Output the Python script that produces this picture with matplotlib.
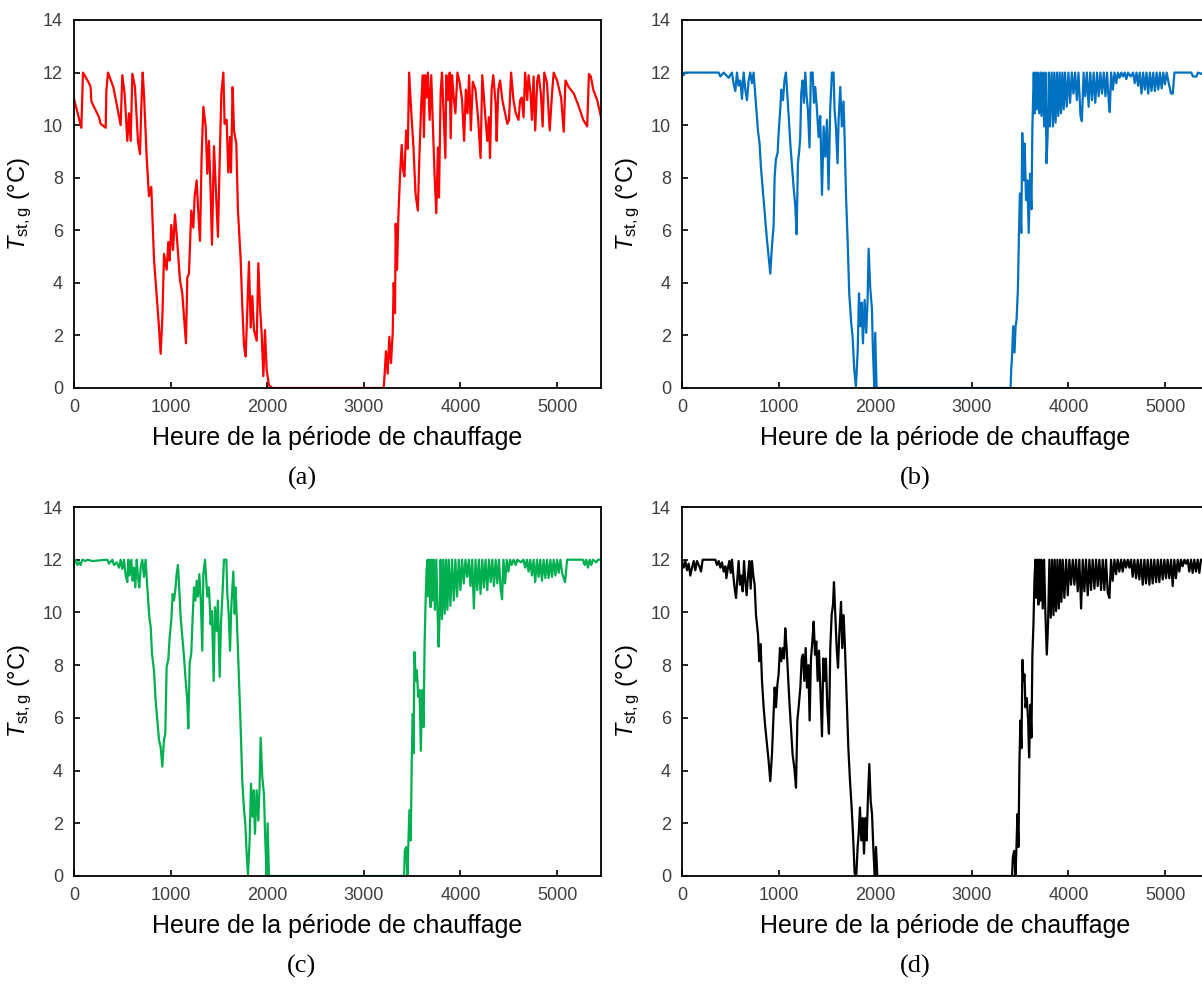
import matplotlib
matplotlib.use('Agg')
import matplotlib.pyplot as plt

plt.rcParams['font.family'] = ['Liberation Sans', 'DejaVu Sans']
plt.rcParams['mathtext.fontset'] = 'custom'
plt.rcParams['mathtext.rm'] = 'Liberation Sans'
plt.rcParams['mathtext.it'] = 'Liberation Sans:italic'

# (a) red
hours_a = [0, 76, 93, 155, 172, 180, 259, 276, 328, 335, 352, 407, 431, 483, 500, 524, 552, 569,
           587, 604, 631, 662, 683, 697, 711, 724, 752, 776, 800, 828, 856, 880, 897, 914, 932,
           959, 976, 990, 1007, 1025, 1045, 1070, 1097, 1121, 1159, 1173, 1190, 1214, 1235, 1249,
           1270, 1283, 1304, 1321, 1339, 1363, 1380, 1397, 1414, 1428, 1449, 1466, 1490, 1508,
           1525, 1546, 1559, 1580, 1597, 1615, 1625, 1642, 1656, 1680, 1697, 1725, 1742, 1760,
           1777, 1794, 1811, 1829, 1846, 1863, 1891, 1908, 1925, 1942, 1960, 1977, 1994, 2018,
           2053, 3205, 3215, 3229, 3247, 3264, 3281, 3299, 3309, 3323, 3330, 3344, 3358, 3375,
           3392, 3406, 3420, 3438, 3455, 3469, 3490, 3514, 3535, 3559, 3576, 3594, 3611, 3622,
           3635, 3649, 3663, 3681, 3698, 3715, 3733, 3750, 3767, 3778, 3795, 3809, 3826, 3844,
           3854, 3872, 3889, 3899, 3913, 3931, 3948, 3969, 3993, 4017, 4038, 4056, 4073, 4090,
           4108, 4128, 4156, 4184, 4208, 4226, 4253, 4278, 4295, 4306, 4323, 4340, 4365, 4375,
           4392, 4410, 4434, 4462, 4486, 4503, 4524, 4549, 4573, 4601, 4618, 4635, 4653, 4670,
           4691, 4705, 4726, 4740, 4757, 4774, 4795, 4809, 4833, 4851, 4868, 4896, 4924, 4948,
           4965, 5000, 5042, 5069, 5087, 5121, 5174, 5226, 5271, 5312, 5330, 5350, 5375, 5416,
           5455]
temp_a = [11.0, 9.9, 12.0, 11.6, 11.45, 10.9, 10.3, 10.05, 9.9, 11.3, 12.0, 11.45, 11.0, 10.0,
          11.9, 11.2, 9.4, 10.45, 9.4, 11.95, 11.45, 9.4, 8.9, 10.75, 12.0, 11.2, 8.8, 7.3, 7.65,
          4.9, 3.5, 2.3, 1.3, 2.6, 5.1, 4.5, 5.55, 4.85, 6.2, 5.25, 6.6, 5.5, 4.1, 3.6, 1.7, 4.2,
          4.35, 6.75, 6.1, 7.3, 7.9, 6.9, 5.6, 8.8, 10.7, 9.95, 8.15, 9.4, 7.5, 5.45, 9.2, 7.8,
          5.75, 8.65, 11.2, 12.0, 10.05, 10.2, 8.2, 9.55, 8.2, 11.45, 9.8, 9.3, 6.75, 4.9, 3.1,
          1.6, 1.2, 3.0, 4.8, 2.3, 3.5, 2.2, 1.8, 4.75, 3.1, 2.1, 0.45, 2.2, 0.7, 0.1,
          0.0, 0.0, 0.5, 1.4, 0.55, 1.95, 0.95, 2.1, 4.0, 2.85, 6.25, 4.5, 6.6, 8.1,
          9.25, 8.3, 8.05, 9.8, 9.1, 12.0, 10.55, 9.15, 7.4, 6.75, 8.9, 10.8, 11.9, 9.55,
          11.9, 11.05, 12.0, 10.2, 11.9, 9.95, 8.05, 6.65, 9.15, 7.25, 11.25, 12.0, 10.45, 8.75,
          11.9, 10.95, 12.0, 9.5, 11.9, 11.05, 10.45, 12.0, 11.6, 10.95, 9.4, 11.35, 10.45, 11.9,
          9.8, 11.65, 11.35, 10.2, 8.75, 11.9, 10.55, 9.4, 10.3, 8.75, 11.35, 11.9, 10.8, 9.4,
          11.35, 11.7, 10.95, 10.45, 10.05, 10.2, 12.0, 10.95, 10.45, 10.2, 10.95, 11.05, 10.3, 12.0,
          10.95, 11.9, 11.2, 10.2, 11.85, 9.8, 11.7, 11.9, 11.2, 9.95, 12.0, 11.6, 9.8, 11.2,
          12.0, 11.7, 11.05, 9.75, 11.7, 11.45, 11.2, 10.7, 10.2, 9.95, 11.95, 11.85, 11.35, 10.95,
          10.3]

# (b) blue
hours_b = [0, 17, 30, 380, 397, 431, 483, 517, 535, 552, 569, 586, 604, 621, 638, 655, 672, 690,
           707, 724, 741, 759, 786, 803, 817, 828, 845, 862, 879, 897, 914, 931, 948, 959, 972,
           990, 1000, 1017, 1028, 1045, 1062, 1076, 1090, 1104, 1121, 1138, 1155, 1173, 1186,
           1200, 1214, 1224, 1234, 1248, 1262, 1276, 1290, 1303, 1320, 1334, 1352, 1366, 1379,
           1397, 1414, 1431, 1449, 1466, 1483, 1500, 1517, 1534, 1552, 1569, 1579, 1593, 1610,
           1621, 1638, 1655, 1672, 1683, 1697, 1714, 1731, 1752, 1766, 1783, 1800, 1818, 1832,
           1845, 1859, 1873, 1890, 1907, 1921, 1932, 1948, 1966, 1976, 1990, 2000, 2014,
           3401, 3408, 3418, 3428, 3442, 3453, 3463, 3477, 3488, 3498, 3512, 3522, 3536, 3547,
           3561, 3575, 3589, 3603, 3617, 3627, 3641, 3651, 3662, 3672, 3686, 3697, 3711, 3721,
           3735, 3749, 3763, 3773, 3784, 3798, 3808, 3826, 3840, 3853, 3867, 3881, 3895, 3909,
           3923, 3937, 3951, 3965, 3982, 4000, 4017, 4035, 4052, 4069, 4087, 4104, 4125, 4139,
           4157, 4174, 4191, 4209, 4226, 4244, 4261, 4278, 4296, 4313, 4331, 4348, 4366, 4383,
           4400, 4418, 4428, 4442, 4460, 4477, 4495, 4512, 4529, 4547, 4564, 4582, 4599, 4617,
           4644, 4669, 4686, 4704, 4721, 4738, 4756, 4773, 4791, 4808, 4826, 4843, 4860, 4878,
           4895, 4913, 4930, 4947, 4965, 4982, 4999, 5017, 5038, 5062, 5080, 5097, 5272, 5289,
           5306, 5324, 5341, 5376, 5392, 5455]
temp_b = [12.0, 11.9, 12.0, 12.0, 11.85, 12.0, 11.8, 12.0, 11.55, 11.3, 12.0, 11.5, 11.7, 11.0,
          12.0, 11.35, 10.95, 11.7, 12.0, 11.6, 12.0, 11.1, 9.8, 9.3, 8.4, 7.9, 7.15, 6.4, 5.65,
          5.0, 4.35, 5.4, 6.15, 8.05, 8.7, 8.95, 9.7, 10.6, 11.35, 10.95, 11.75, 12.0, 11.2,
          10.35, 9.3, 8.45, 7.65, 6.9, 5.85, 8.55, 9.05, 9.55, 11.2, 11.7, 10.85, 12.0, 11.1,
          10.6, 9.15, 12.0, 12.0, 10.85, 11.45, 10.6, 9.55, 10.35, 7.35, 9.95, 8.8, 10.2, 7.55,
          10.6, 12.0, 12.0, 10.6, 9.95, 8.55, 10.2, 11.45, 9.95, 10.9, 9.55, 7.4, 5.65, 3.6,
          2.45, 1.95, 0.7, 0.05, 1.35, 3.6, 2.35, 3.25, 1.7, 3.35, 2.1, 3.35, 5.3, 3.85, 3.0,
          1.45, 0.05, 2.1, 0.0,
          0.0, 0.7, 1.35, 2.35, 1.35, 2.35, 2.6, 3.75, 5.9, 7.4, 5.9, 9.7, 7.9, 9.3,
          7.15, 7.9, 5.9, 8.15, 6.8, 9.95, 12.0, 10.45, 12.0, 10.6, 12.0, 10.45, 12.0, 10.35,
          12.0, 9.95, 12.0, 8.55, 9.55, 12.0, 9.95, 12.0, 9.95, 12.0, 10.1, 12.0, 10.35, 12.0,
          10.45, 12.0, 10.6, 12.0, 10.7, 12.0, 10.85, 12.0, 11.2, 12.0, 10.95, 12.0, 10.35, 10.15,
          12.0, 11.1, 12.0, 10.7, 12.0, 10.95, 12.0, 10.85, 12.0, 11.1, 12.0, 11.2, 12.0, 11.1,
          12.0, 10.85, 10.5, 12.0, 11.35, 12.0, 11.6, 12.0, 11.8, 12.0, 11.85, 12.0, 11.75, 12.0,
          11.85, 12.0, 11.6, 12.0, 11.5, 12.0, 11.2, 12.0, 11.35, 12.0, 11.2, 12.0, 11.3, 12.0,
          11.3, 12.0, 11.35, 12.0, 11.4, 12.0, 11.55, 12.0, 11.6, 11.2, 11.2, 12.0, 12.0, 11.85,
          11.85, 11.85, 12.0, 11.95, 12.0, 12.0]

# (c) green
hours_c = [0, 17, 35, 52, 69, 86, 121, 138, 190, 345, 362, 397, 414, 442, 466, 483, 500, 517,
           535, 552, 562, 576, 593, 607, 621, 635, 649, 662, 676, 690, 707, 724, 741, 759, 780,
           794, 807, 828, 845, 862, 880, 897, 914, 931, 945, 959, 976, 990, 1007, 1021, 1035,
           1049, 1062, 1076, 1090, 1104, 1121, 1139, 1156, 1173, 1183, 1197, 1214, 1228, 1242,
           1256, 1270, 1283, 1297, 1311, 1328, 1339, 1356, 1370, 1380, 1397, 1414, 1428, 1446,
           1459, 1477, 1490, 1508, 1521, 1539, 1552, 1577, 1587, 1601, 1615, 1628, 1649, 1663,
           1673, 1690, 1708, 1725, 1742, 1760, 1773, 1787, 1801, 1818, 1832, 1846, 1859, 1873,
           1890, 1908, 1921, 1932, 1949, 1966, 1980, 1994, 2004, 2018,
           3417, 3424, 3438, 3452, 3462, 3472, 3486, 3497, 3507, 3514, 3524, 3538, 3549, 3563,
           3577, 3590, 3604, 3618, 3629, 3639, 3649, 3660, 3670, 3681, 3691, 3702, 3712, 3722,
           3736, 3750, 3764, 3774, 3785, 3795, 3809, 3823, 3837, 3851, 3865, 3879, 3896, 3913,
           3931, 3948, 3965, 3983, 4000, 4017, 4035, 4052, 4070, 4087, 4104, 4122, 4139, 4156,
           4174, 4191, 4208, 4226, 4243, 4260, 4278, 4295, 4313, 4330, 4347, 4365, 4382, 4399,
           4417, 4431, 4445, 4462, 4479, 4497, 4514, 4531, 4549, 4573, 4590, 4625, 4653, 4670,
           4688, 4705, 4722, 4740, 4757, 4774, 4792, 4809, 4826, 4844, 4861, 4879, 4896, 4913,
           4931, 4948, 4965, 4983, 5000, 5017, 5035, 5052, 5069, 5083, 5104, 5268, 5285, 5302,
           5320, 5337, 5354, 5372, 5406, 5424, 5458]
temp_c = [11.85, 12.0, 11.8, 11.9, 11.8, 12.0, 11.95, 12.0, 11.95, 12.0, 11.85, 12.0, 11.8, 11.9,
          11.7, 12.0, 11.65, 12.0, 11.4, 11.15, 12.0, 11.4, 12.0, 11.2, 11.7, 10.95, 12.0, 11.35,
          10.95, 11.7, 12.0, 11.35, 12.0, 10.95, 9.8, 9.45, 8.45, 7.8, 6.65, 5.9, 5.15, 4.9,
          4.15, 5.15, 5.4, 7.95, 8.2, 9.05, 9.7, 10.7, 10.45, 10.85, 11.45, 11.8, 10.85, 9.8,
          9.05, 8.3, 7.4, 6.65, 5.6, 8.05, 8.45, 9.8, 10.95, 10.45, 11.2, 10.6, 11.45, 10.6,
          8.55, 11.45, 12.0, 11.2, 10.6, 10.95, 9.55, 10.05, 7.4, 10.2, 9.3, 10.45, 7.55, 9.55,
          10.85, 12.0, 12.0, 10.7, 9.95, 8.55, 10.2, 11.55, 9.95, 10.95, 9.3, 7.4, 5.65, 3.6,
          2.5, 2.0, 0.85, 0.05, 1.35, 3.5, 2.25, 3.25, 1.6, 3.25, 2.1, 3.4, 5.25, 3.75, 3.1,
          1.35, 0.0, 2.0, 0.0,
          0.0, 0.95, 1.1, 0.0, 1.35, 2.5, 1.35, 4.65, 6.15, 4.65, 8.5, 7.4, 7.8, 6.8,
          7.05, 4.75, 7.05, 5.65, 8.8, 10.35, 11.6, 12.0, 10.6, 12.0, 10.2, 12.0, 10.45, 12.0,
          10.1, 12.0, 9.95, 8.7, 9.95, 12.0, 9.75, 12.0, 9.95, 12.0, 10.1, 12.0, 10.25, 12.0,
          10.45, 12.0, 10.6, 12.0, 10.85, 12.0, 11.1, 12.0, 11.35, 12.0, 11.0, 12.0, 10.15, 12.0,
          10.85, 12.0, 10.7, 12.0, 10.95, 12.0, 10.85, 12.0, 11.15, 12.0, 11.0, 12.0, 11.1, 12.0,
          10.85, 10.5, 12.0, 11.1, 12.0, 11.55, 12.0, 11.8, 12.0, 11.8, 12.0, 11.9, 12.0, 11.7,
          12.0, 11.55, 12.0, 11.4, 12.0, 11.15, 12.0, 11.35, 12.0, 11.2, 12.0, 11.3, 12.0, 11.3,
          12.0, 11.35, 12.0, 11.4, 12.0, 11.5, 12.0, 11.5, 11.3, 11.15, 12.0, 12.0, 11.8, 12.0,
          11.7, 12.0, 11.8, 12.0, 11.9, 12.0, 12.0]

# (d) black
hours_d = [0, 17, 35, 52, 69, 86, 104, 121, 138, 155, 179, 197, 214, 345, 362, 380, 397, 414,
           431, 449, 459, 476, 490, 504, 517, 531, 545, 559, 573, 586, 600, 614, 628, 642, 655,
           669, 683, 697, 711, 724, 738, 752, 766, 787, 800, 814, 828, 845, 862, 880, 897, 914,
           931, 945, 959, 973, 987, 1000, 1014, 1028, 1042, 1056, 1069, 1083, 1097, 1111, 1128,
           1145, 1163, 1180, 1194, 1207, 1225, 1239, 1252, 1266, 1280, 1294, 1308, 1321, 1335,
           1349, 1363, 1377, 1390, 1404, 1418, 1432, 1449, 1463, 1477, 1490, 1504, 1521, 1535,
           1549, 1563, 1573, 1587, 1601, 1615, 1628, 1646, 1659, 1673, 1687, 1704, 1722, 1739,
           1756, 1770, 1787, 1804, 1818, 1829, 1842, 1856, 1870, 1884, 1898, 1911, 1925, 1939,
           1953, 1967, 1980, 1994, 2008, 2022,
           3417, 3424, 3438, 3452, 3462, 3472, 3483, 3493, 3503, 3514, 3524, 3534, 3545, 3555,
           3569, 3583, 3593, 3607, 3617, 3627, 3638, 3648, 3658, 3669, 3679, 3689, 3700, 3710,
           3720, 3734, 3748, 3762, 3776, 3789, 3803, 3817, 3831, 3845, 3858, 3872, 3886, 3900,
           3914, 3927, 3941, 3958, 3976, 3993, 4010, 4027, 4045, 4062, 4079, 4096, 4113, 4131,
           4148, 4165, 4182, 4200, 4217, 4234, 4251, 4269, 4286, 4303, 4320, 4338, 4355, 4372,
           4389, 4407, 4424, 4441, 4458, 4476, 4493, 4510, 4527, 4545, 4562, 4579, 4596, 4614,
           4631, 4648, 4665, 4682, 4700, 4717, 4734, 4751, 4769, 4786, 4803, 4820, 4838, 4855,
           4872, 4889, 4907, 4924, 4941, 4958, 4976, 4993, 5010, 5027, 5044, 5062, 5079, 5096,
           5113, 5131, 5148, 5165, 5182, 5200, 5217, 5234, 5251, 5269, 5286, 5303, 5320, 5338,
           5355, 5372, 5389, 5455]
temp_d = [11.95, 11.7, 11.95, 11.6, 11.85, 11.4, 11.7, 11.95, 11.6, 11.95, 11.75, 11.55, 12.0,
          12.0, 11.8, 11.95, 11.7, 11.9, 11.55, 11.75, 11.3, 11.7, 11.95, 11.5, 12.0, 11.4, 10.9,
          10.55, 11.3, 11.95, 11.05, 11.4, 10.8, 11.95, 11.2, 10.65, 11.4, 11.95, 10.9, 11.95,
          11.4, 11.05, 9.9, 9.15, 8.15, 8.8, 7.4, 6.4, 5.65, 5.0, 4.35, 3.6, 4.6, 5.9, 7.15,
          6.4, 7.25, 7.65, 8.65, 8.15, 8.65, 8.25, 9.4, 8.65, 7.65, 6.65, 5.65, 4.6, 4.1, 3.35,
          5.9, 6.4, 7.15, 8.25, 8.4, 7.4, 8.65, 7.15, 8.0, 5.9, 8.25, 8.9, 9.65, 8.4, 8.9, 7.4,
          8.55, 7.15, 5.3, 8.25, 7.4, 8.25, 6.4, 5.4, 8.65, 9.9, 10.3, 11.15, 9.9, 8.65, 7.9,
          9.15, 10.4, 8.65, 9.9, 8.65, 6.75, 4.85, 3.6, 2.6, 1.6, 0.1, 0.0, 1.1, 1.6, 2.6,
          1.35, 2.2, 0.85, 2.2, 1.35, 3.0, 4.25, 2.85, 2.35, 1.1, 0.0, 1.1, 0.0,
          0.0, 0.7, 0.95, 0.0, 1.1, 2.35, 1.1, 4.35, 5.9, 4.85, 8.2, 7.4, 7.65, 6.4,
          6.75, 5.9, 4.5, 6.5, 5.25, 8.4, 9.55, 11.2, 12.0, 10.55, 12.0, 10.3, 12.0, 10.45,
          12.0, 10.15, 12.0, 9.9, 8.4, 9.55, 12.0, 9.8, 12.0, 9.9, 12.0, 10.05, 12.0, 10.15,
          12.0, 10.4, 12.0, 10.55, 12.0, 10.65, 12.0, 11.05, 12.0, 11.05, 12.0, 10.8, 12.0, 10.15,
          12.0, 10.8, 12.0, 10.65, 12.0, 10.85, 12.0, 10.9, 12.0, 11.0, 12.0, 10.85, 12.0, 10.85,
          12.0, 10.75, 10.55, 12.0, 11.2, 12.0, 11.45, 12.0, 11.55, 12.0, 11.55, 12.0, 11.7, 12.0,
          11.7, 12.0, 11.35, 12.0, 11.3, 12.0, 11.25, 12.0, 11.05, 12.0, 11.1, 12.0, 11.05, 12.0,
          11.1, 12.0, 11.15, 12.0, 11.15, 12.0, 11.25, 12.0, 11.3, 12.0, 11.3, 12.0, 11.0, 12.0,
          11.3, 12.0, 11.55, 12.0, 11.75, 12.0, 11.85, 12.0, 11.55, 12.0, 11.5, 12.0, 11.55, 12.0,
          11.5, 12.0, 12.0, 12.0]

series = [(hours_a, temp_a, '#FF0000', '(a)'),
          (hours_b, temp_b, '#0070C0', '(b)'),
          (hours_c, temp_c, '#00B050', '(c)'),
          (hours_d, temp_d, '#000000', '(d)')]

W, H = 1202, 984
fig = plt.figure(figsize=(W / 100, H / 100), dpi=100)

# pixel boxes: left, top, width, height
boxes = [(74, 20, 527, 368), (682, 20, 527, 368), (74, 507, 527, 369), (682, 507, 527, 369)]
letter_pos = [(302, 478), (915, 478), (302, 966), (915, 966)]

for (hrs, tmp, col, tag), (l, t, w, h), (lx, ly) in zip(series, boxes, letter_pos):
    ax = fig.add_axes([l / W, 1 - (t + h) / H, w / W, h / H])
    ax.plot(hrs, tmp, color=col, lw=1.6)
    ax.set_xlim(0, 5455)
    ax.set_ylim(0, 14)
    ax.set_xticks([0, 1000, 2000, 3000, 4000, 5000])
    ax.set_yticks(range(0, 15, 2))
    ax.tick_params(direction='in', length=4, width=1.2, labelsize=13,
                   labelcolor='#404040', pad=8)
    for s in ax.spines.values():
        s.set_linewidth(1.3)
    ax.set_xlabel('Heure de la période de chauffage', fontsize=18, labelpad=7)
    ax.set_ylabel(r'$T_{\mathrm{st,g}}$ (°C)', fontsize=17, labelpad=6)
    fig.text(lx / W, 1 - ly / H, tag, fontsize=19, family='Liberation Serif',
             ha='center', va='center')

fig.savefig('out.png', dpi=100)
